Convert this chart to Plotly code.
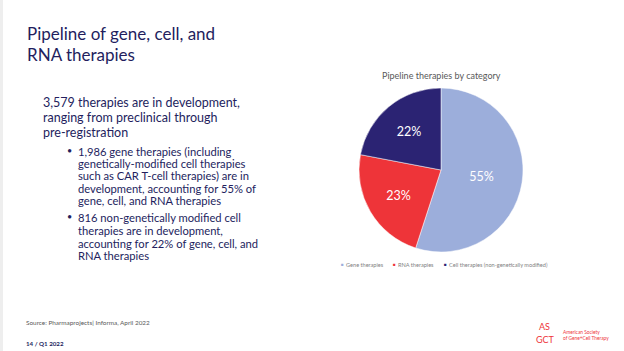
import plotly.graph_objects as go

categories = ["Gene therapies", "RNA therapies", "Cell therapies (non-genetically modified)"]
shares = [55, 23, 22]
colors = ["#9CAEDB", "#EE3439", "#2B2373"]

title_lines = ["Pipeline of gene, cell, and", "RNA therapies"]
main_lines = ["3,579 therapies are in development,", "ranging from preclinical through", "pre-registration"]
bullet1 = ["1,986 gene therapies (including", "genetically-modified cell therapies",
           "such as CAR T-cell therapies) are in", "development, accounting for 55% of",
           "gene, cell, and RNA therapies"]
bullet2 = ["816 non-genetically modified cell", "therapies are in development,",
           "accounting for 22% of gene, cell, and", "RNA therapies"]

W, H = 624, 351
FONT = "Lato"
NAVY = "#231E5E"

fig = go.Figure()
fig.add_trace(go.Pie(
    labels=categories, values=shares, sort=False, direction="clockwise", rotation=0,
    marker=dict(colors=colors, line=dict(color="white", width=0.5)),
    texttemplate="%{value}%", textposition="inside", insidetextorientation="horizontal",
    textfont=dict(family=FONT, size=12.5, color="white"),
    domain=dict(x=[359 / W, 523 / W], y=[1 - 252 / H, 1 - 88 / H]),
    hoverinfo="label+percent", showlegend=False,
))

ann = []
def txt(x, y, s, size, color=NAVY, xanchor="left", weight="normal"):
    ann.append(dict(x=x / W, y=1 - y / H, xref="paper", yref="paper", text=s, showarrow=False,
                    xanchor=xanchor, yanchor="middle", align="left", borderpad=0,
                    font=dict(family=FONT, size=size, color=color, weight=weight)))

for i, s in enumerate(title_lines):
    txt(26, 33 + i * 22, s, 17)
for y, s in zip([102.3, 117.2, 132], main_lines):
    txt(42, y, s, 12.5)
for y, s in zip([151, 163, 175.5, 188, 200], bullet1):
    txt(77, y, s, 11.2)
for y, s in zip([217.5, 230, 243, 255], bullet2):
    txt(77, y, s, 11.2)
txt(66, 150, "•", 9)
txt(66, 216.5, "•", 9)

txt(441, 75, "Pipeline therapies by category", 9, color="#595959", xanchor="center")

# custom compact legend built from the data lists
leg_x = [340, 392, 443]
for lx, name, c in zip(leg_x, categories, colors):
    txt(lx, 264.3, "■", 4.5, color=c)
    txt(lx + 4.5, 264.3, name, 5.6, color="#7F7F7F")

txt(25, 322, "Source: Pharmaprojects| Informa, April 2022", 6.4, color="#595959")
txt(25, 343, "14 / Q1 2022", 6.2, color=NAVY, weight="bold")
# ASGCT logo (text-based)
txt(544, 326, "AS", 9, color="#EE3439", xanchor="center")
txt(545, 339, "GCT", 9, color="#EE3439", xanchor="center")
txt(562, 335, "American Society<br>of Gene+Cell Therapy", 4.8, color="#EE3439")

fig.update_layout(
    width=W, height=H, margin=dict(l=0, r=0, t=0, b=0),
    paper_bgcolor="white", plot_bgcolor="white",
    annotations=ann, showlegend=False,
    shapes=[dict(type="rect", xref="paper", yref="paper", x0=0, x1=3 / W, y0=0, y1=1,
                 fillcolor="#EEEEEE", line=dict(width=0), layer="below")],
)
fig.write_html("out.html")
